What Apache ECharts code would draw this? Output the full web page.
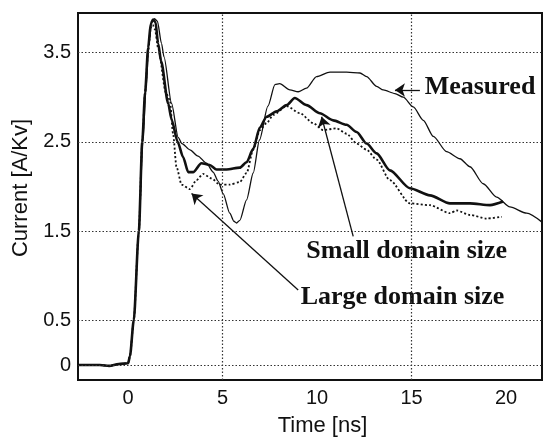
<!DOCTYPE html>
<html>
<head>
<meta charset="utf-8">
<script src="https://cdn.jsdelivr.net/npm/echarts@6/dist/echarts.min.js"></script>
<style>
html,body{margin:0;padding:0;background:#fff;}
#c{width:543px;height:439px;}
</style>
</head>
<body>
<div id="c"></div>
<script>
// ---- Data (time in ns, current in A/kV) ----
var xTickValues = [0, 5, 10, 15, 20];
var yTickValues = [0, 0.5, 1.5, 2.5, 3.5];
var xGridValues = [5, 15];
var yGridValues = [0, 0.5, 1.5, 2.5, 3.5];

var measured = [[-2.65,0],[-1.5,0],[-1.0,-0.01],[-0.5,0.01],[0,0.02],[0.1,0.1],[0.3,0.5],[0.57,1.5],[0.78,2.5],[0.95,3.1],[1.1,3.6],[1.25,3.84],[1.4,3.88],[1.55,3.85],[1.77,3.6],[1.9,3.45],[2.3,2.93],[2.65,2.55],[2.85,2.48],[3.27,2.41],[3.7,2.34],[4.15,2.26],[4.5,2.16],[4.76,2.06],[5.03,1.92],[5.38,1.70],[5.6,1.61],[5.74,1.59],[5.91,1.62],[6.27,1.85],[6.62,2.15],[6.95,2.52],[7.4,2.9],[7.77,3.14],[8.02,3.15],[8.56,3.08],[9.0,3.06],[9.44,3.10],[9.97,3.23],[10.68,3.28],[11.56,3.28],[12.27,3.27],[12.62,3.23],[13.15,3.12],[13.5,3.08],[14.12,3.04],[14.56,3.0],[15.09,2.89],[15.62,2.74],[16.15,2.56],[16.85,2.39],[17.56,2.31],[18.09,2.22],[18.79,2.03],[19.5,1.88],[20.2,1.77],[21.09,1.70],[21.9,1.60]];

var smallDomain = [[-2.65,0],[-1.5,0],[-1.0,-0.01],[-0.5,0.01],[0,0.02],[0.1,0.1],[0.3,0.5],[0.57,1.5],[0.75,2.5],[0.9,3.05],[1.06,3.55],[1.2,3.82],[1.32,3.87],[1.45,3.84],[1.59,3.6],[1.75,3.4],[2.12,2.93],[2.3,2.75],[2.62,2.5],[2.91,2.33],[3.18,2.16],[3.44,2.16],[3.88,2.26],[4.32,2.24],[4.68,2.19],[5.21,2.19],[5.91,2.21],[6.27,2.27],[6.62,2.42],[6.97,2.66],[7.33,2.78],[7.86,2.84],[8.39,2.91],[8.82,2.99],[9.44,2.91],[10.15,2.82],[10.85,2.74],[11.56,2.69],[12.09,2.61],[12.62,2.48],[13.15,2.37],[13.85,2.18],[14.91,1.98],[15.97,1.90],[17.03,1.81],[18.09,1.81],[19.15,1.79],[19.85,1.83]];

var largeDomain = [[-2.65,0],[-1.5,0],[-1.0,-0.01],[-0.5,0.01],[0,0.02],[0.1,0.1],[0.3,0.5],[0.57,1.5],[0.75,2.5],[0.9,3.05],[1.06,3.5],[1.2,3.78],[1.3,3.81],[1.42,3.76],[1.59,3.55],[2.0,3.05],[2.21,2.97],[2.38,2.59],[2.56,2.22],[2.83,2.02],[3.27,1.97],[3.62,2.07],[3.97,2.14],[4.41,2.09],[4.85,2.02],[5.38,2.02],[5.91,2.05],[6.27,2.15],[6.62,2.41],[6.97,2.63],[7.33,2.71],[7.68,2.80],[8.39,2.90],[9.09,2.82],[9.79,2.71],[10.32,2.63],[11.03,2.65],[11.56,2.59],[12.09,2.48],[12.62,2.41],[13.15,2.30],[13.85,2.07],[14.91,1.81],[15.97,1.79],[17.03,1.70],[17.38,1.73],[18.09,1.68],[18.97,1.64],[19.77,1.66]];

// annotation arrows: [tail, head] in data coords
var measuredArrow = [[15.44,3.08],[14.12,3.08]];
var smallArrow = [[11.91,1.44],[10.24,2.78]];
var largeArrow = [[9.0,0.84],[3.36,1.92]];
// annotation labels: [text, x, y] in data coords
var annotations = [["Measured",18.62,3.11],["Small domain size",14.74,1.27],["Large domain size",14.52,0.76]];

var chart = echarts.init(document.getElementById('c'), null, {renderer:'canvas'});

var gridLines = [];
yGridValues.forEach(function(v){ gridLines.push({yAxis: v}); });
xGridValues.forEach(function(v){ gridLines.push({xAxis: v}); });

function arrowPair(a){ return [{coord:a[0]},{coord:a[1]}]; }

var option = {
  animation:false,
  backgroundColor:'#fff',
  grid:{left:78,right:1,top:13,bottom:59,show:true,borderColor:'#111',borderWidth:2,backgroundColor:'transparent'},
  xAxis:{type:'value',min:-2.65,max:21.9,
    axisLine:{show:true,onZero:false,lineStyle:{color:'#111',width:2}},
    axisTick:{show:false},
    splitLine:{show:false},
    axisLabel:{customValues:xTickValues,color:'#111',fontFamily:'Liberation Sans, Arial, sans-serif',fontSize:20,margin:8,showMinLabel:true,showMaxLabel:true}
  },
  yAxis:{type:'value',min:-0.168,max:3.942,
    axisLine:{show:true,onZero:false,lineStyle:{color:'#111',width:2}},
    axisTick:{show:false},
    splitLine:{show:false},
    axisLabel:{customValues:yTickValues,color:'#111',fontFamily:'Liberation Sans, Arial, sans-serif',fontSize:20,margin:7}
  },
  series:[
    {type:'line',name:'grid',data:[],silent:true,
      markLine:{silent:true,symbol:['none','none'],label:{show:false},
        lineStyle:{color:'#333',width:1.2,type:[1.5,2]},
        data:gridLines}
    },
    {type:'line',name:'Measured',data:measured,showSymbol:false,smooth:0.25,smoothMonotone:'x',
      lineStyle:{color:'#111',width:1.3},z:3},
    {type:'line',name:'Small domain size',data:smallDomain,showSymbol:false,smooth:0.25,smoothMonotone:'x',
      lineStyle:{color:'#111',width:2.6},z:4},
    {type:'line',name:'Large domain size',data:largeDomain,showSymbol:false,smooth:0.25,smoothMonotone:'x',
      lineStyle:{color:'#111',width:1.8,type:[2,2.2]},z:3},
    {type:'line',name:'arrows',data:[],silent:true,
      markLine:{silent:true,symbol:['none','arrow'],symbolSize:10,label:{show:false},
        lineStyle:{color:'#111',width:1.3,type:'solid'},
        data:[arrowPair(measuredArrow),arrowPair(smallArrow),arrowPair(largeArrow)]}
    }
  ]
};
chart.setOption(option);

var graphics = [];
annotations.forEach(function(a){
  var p = chart.convertToPixel({gridIndex:0},[a[1],a[2]]);
  graphics.push({type:'text',x:p[0],y:p[1],style:{text:a[0],fill:'#111',font:'bold 26px "Liberation Serif", "Times New Roman", serif',textAlign:'center',textVerticalAlign:'middle'}});
});
graphics.push({type:'text',x:322.5,y:426,style:{text:'Time [ns]',fill:'#111',font:'22px "Liberation Sans", Arial, sans-serif',textAlign:'center',textVerticalAlign:'middle'}});
graphics.push({type:'text',x:21,y:188,rotation:Math.PI/2,style:{text:'Current [A/Kv]',fill:'#111',font:'22px "Liberation Sans", Arial, sans-serif',textAlign:'center',textVerticalAlign:'middle'}});
chart.setOption({graphic:graphics});
</script>
</body>
</html>
